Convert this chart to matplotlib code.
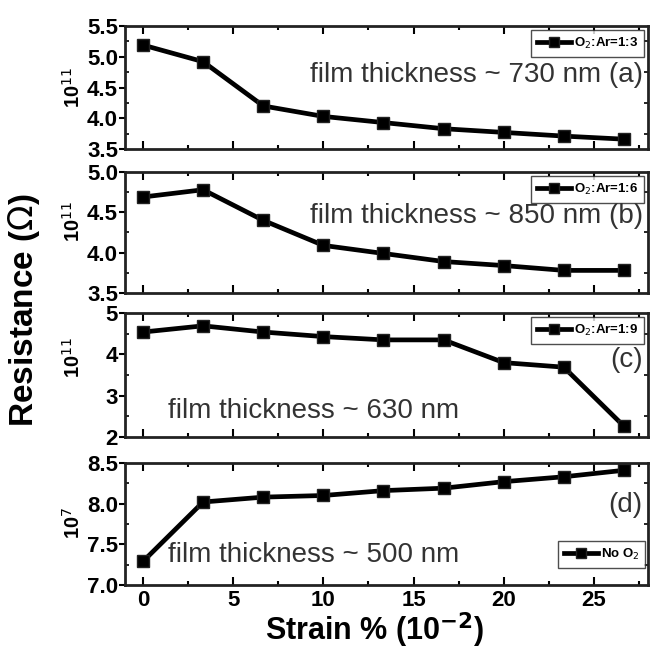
import matplotlib
matplotlib.use("Agg")
import matplotlib.pyplot as plt
from matplotlib.ticker import MultipleLocator

plt.rcParams['font.family'] = ['Liberation Sans Narrow', 'Liberation Sans', 'DejaVu Sans']

# strain values (10^-2 %)
strain = [0, 3.33, 6.67, 10, 13.33, 16.67, 20, 23.33, 26.67]

# resistance for each deposition condition
res_a = [5.19, 4.92, 4.20, 4.03, 3.93, 3.83, 3.77, 3.71, 3.66]   # x 10^11
res_b = [4.69, 4.78, 4.40, 4.09, 3.99, 3.89, 3.84, 3.78, 3.78]   # x 10^11
res_c = [4.54, 4.69, 4.54, 4.43, 4.35, 4.35, 3.80, 3.69, 2.26]   # x 10^11
res_d = [7.29, 8.02, 8.08, 8.10, 8.16, 8.19, 8.27, 8.33, 8.41]   # x 10^7

series = [res_a, res_b, res_c, res_d]
legend_labels = [r'O$_2$:Ar=1:3', r'O$_2$:Ar=1:6', r'O$_2$:Ar=1:9', r'No O$_2$']
scale_labels = [r'10$^{11}$', r'10$^{11}$', r'10$^{11}$', r'10$^{7}$']
thickness = ['730', '850', '630', '500']
panel_tags = ['(a)', '(b)', '(c)', '(d)']
ylims = [(3.5, 5.5), (3.5, 5.0), (2, 5), (7.0, 8.5)]
ymajor = [0.5, 0.5, 1, 0.5]
yminor = [0.25, 0.25, 0.5, 0.25]
xticks = [0, 5, 10, 15, 20, 25]

fig = plt.figure(figsize=(6.5, 6.55), dpi=100)

# axes boxes in figure fractions (left, bottom, width, height)
boxes = [(0.1923, 0.7725, 0.8046, 0.1878),
         (0.1923, 0.5527, 0.8046, 0.1847),
         (0.1923, 0.3328, 0.8046, 0.1893),
         (0.1923, 0.1069, 0.8046, 0.1863)]
scale_y = [0.50, 0.59, 0.64, 0.51]

txt_color = '#333333'
film_size = 20

for i, vals in enumerate(series):
    ax = fig.add_axes(boxes[i])
    ax.plot(strain, vals, color='black', lw=3.4, marker='s', ms=8,
            mfc='black', mec='#222222', label=legend_labels[i])
    ax.set_xlim(-1, 28)
    ax.set_ylim(*ylims[i])
    ax.xaxis.set_major_locator(MultipleLocator(5))
    ax.xaxis.set_minor_locator(MultipleLocator(2.5))
    ax.yaxis.set_major_locator(MultipleLocator(ymajor[i]))
    ax.yaxis.set_minor_locator(MultipleLocator(yminor[i]))
    for sp in ax.spines.values():
        sp.set_linewidth(2.0)
        sp.set_color('#222222')
    ax.tick_params(axis='x', which='both', direction='in', top=True, width=1.5)
    ax.tick_params(axis='x', which='major', length=6)
    ax.tick_params(axis='x', which='minor', length=3)
    ax.tick_params(axis='y', which='major', direction='out', length=4, width=1.5, pad=1)
    ax.tick_params(axis='y', which='minor', direction='in', length=3, width=1.2, right=True)
    if ymajor[i] == 1:
        ax.yaxis.set_major_formatter(plt.FormatStrFormatter('%d'))
    else:
        ax.yaxis.set_major_formatter(plt.FormatStrFormatter('%.1f'))
    for lab in ax.get_yticklabels():
        lab.set_fontsize(16)
        lab.set_fontweight('bold')
    if i < 3:
        ax.set_xticklabels([])
    else:
        ax.set_xticks(xticks)
        for lab in ax.get_xticklabels():
            lab.set_fontsize(16)
            lab.set_fontweight('bold')

    ax.text(-0.10, scale_y[i], scale_labels[i], transform=ax.transAxes,
            rotation=90, ha='center', va='center', fontsize=14.5, fontweight='bold')

    if i < 2:
        ax.text(0.99, [0.545, 0.58][i], 'film thickness ~ %s nm %s' % (thickness[i], panel_tags[i]),
                transform=ax.transAxes, ha='right', va='baseline', fontsize=film_size,
                color=txt_color, family='Liberation Sans')
        leg_kw = dict(loc='upper right', borderaxespad=0.3)
    else:
        ax.text(0.082, [0.153, 0.19][i - 2], 'film thickness ~ %s nm' % thickness[i],
                transform=ax.transAxes, ha='left', va='baseline', fontsize=film_size,
                color=txt_color, family='Liberation Sans')
        ax.text(0.99, [0.565, 0.60][i - 2], panel_tags[i],
                transform=ax.transAxes, ha='right', va='baseline', fontsize=film_size,
                color=txt_color, family='Liberation Sans')
        if i == 2:
            leg_kw = dict(loc='upper right', borderaxespad=0.3)
        else:
            leg_kw = dict(loc='lower right', bbox_to_anchor=(0.995, 0.14), borderaxespad=0)

    leg = ax.legend(fontsize=9.5, frameon=True, fancybox=False,
                    handlelength=2.6, handletextpad=0.2,
                    borderpad=0.45, markerscale=0.85, **leg_kw)
    leg.get_frame().set_edgecolor('#222222')
    leg.get_frame().set_linewidth(1.0)
    for t in leg.get_texts():
        t.set_fontweight('bold')

fig.text(0.037, 0.527, r'Resistance ($\Omega$)', rotation=90, ha='center', va='center',
         fontsize=24, fontweight='bold', family='Liberation Sans')
fig.text(0.577, 0.022, r'Strain % (10$^{\mathbf{-2}}$)', ha='center', va='baseline',
         fontsize=22, fontweight='bold', family='Liberation Sans')

fig.savefig('out.png', dpi=100)
